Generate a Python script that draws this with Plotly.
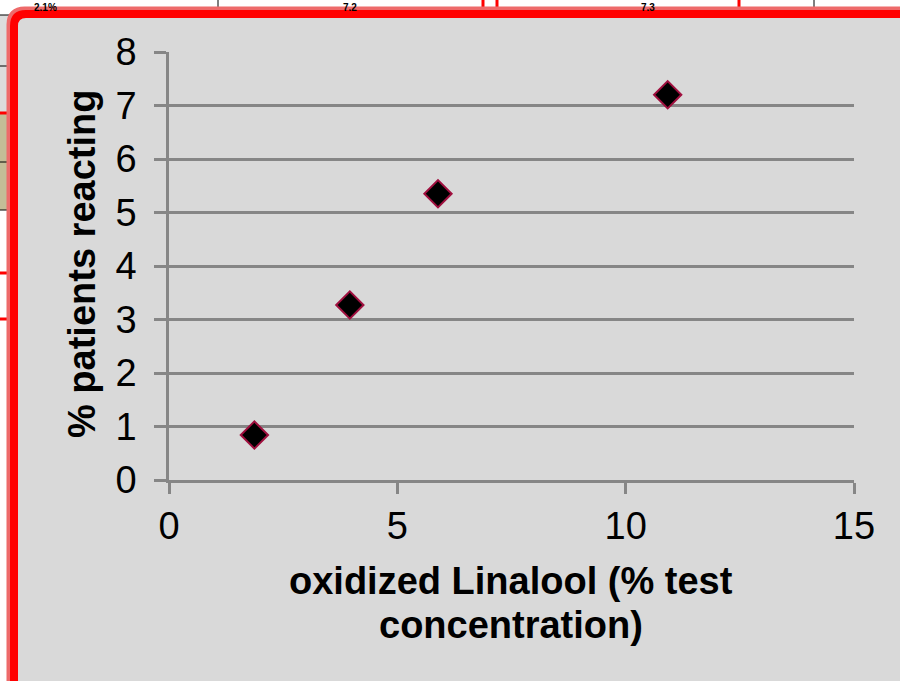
import plotly.graph_objects as go

# ---- data ----
concentration = [1.87, 3.96, 5.89, 10.92]
pct_reacting = [0.84, 3.27, 5.35, 7.2]
x_ticks = [0, 5, 10, 15]
y_ticks = [0, 1, 2, 3, 4, 5, 6, 7, 8]
x_title_lines = ["oxidized Linalool (% test", "concentration)"]
y_title = "% patients reacting"
cell_texts = ["2.1%", "7.2", "7.3"]

W, H = 900, 681


def px(x):
    return x / W


def py(y):
    return 1 - y / H


GRID = "#868686"
BG = "#D9D9D9"
FONT = "Liberation Sans, Arial, sans-serif"

fig = go.Figure()
fig.add_trace(go.Scatter(
    x=concentration, y=pct_reacting, mode="markers",
    marker=dict(symbol="diamond", size=21, color="black",
                line=dict(color="#A0103F", width=2)),
    showlegend=False, cliponaxis=False,
))

shapes = []
# spreadsheet remnants: left strip
shapes.append(dict(type="rect", xref="paper", yref="paper", x0=px(0), x1=px(9), y0=py(113), y1=py(15),
                   fillcolor="#DCDCDC", line=dict(width=0), layer="below"))
shapes.append(dict(type="rect", xref="paper", yref="paper", x0=px(0), x1=px(9), y0=py(210), y1=py(113),
                   fillcolor="#C4BD97", line=dict(width=0), layer="below"))
for yy, col in [(15, "black"), (66, "black"), (162, "black"), (210, "black")]:
    shapes.append(dict(type="line", xref="paper", yref="paper", x0=px(0), x1=px(9), y0=py(yy), y1=py(yy),
                       line=dict(color=col, width=1), layer="below"))
for yy in [113, 273, 319]:
    shapes.append(dict(type="line", xref="paper", yref="paper", x0=px(0), x1=px(9), y0=py(yy), y1=py(yy),
                       line=dict(color="red", width=3), layer="below"))
# top strip
for xx in [218, 814]:
    shapes.append(dict(type="line", xref="paper", yref="paper", x0=px(xx), x1=px(xx), y0=py(12), y1=py(0),
                       line=dict(color="black", width=1), layer="below"))
for xx in [483, 497, 739]:
    shapes.append(dict(type="line", xref="paper", yref="paper", x0=px(xx), x1=px(xx), y0=py(12), y1=py(0),
                       line=dict(color="red", width=3), layer="below"))

# chart frame with rounded corner
r = 12


def frame_path(off):
    x0, y0 = off, off
    return (f"M {px(x0)},{py(H + 20)} L {px(x0)},{py(y0 + r)} "
            f"Q {px(x0)},{py(y0)} {px(x0 + r)},{py(y0)} L {px(W + 20)},{py(y0)} "
            f"L {px(W + 20)},{py(H + 20)} Z")


shapes.append(dict(type="path", xref="paper", yref="paper", path=frame_path(12.5),
                   fillcolor=BG, line=dict(color="#EE6A6A", width=12), layer="below"))
shapes.append(dict(type="path", xref="paper", yref="paper", path=frame_path(14),
                   fillcolor=BG, line=dict(color="#FF0000", width=8), layer="below"))

annotations = []
for txt, cx in zip(cell_texts, [45, 350, 648]):
    annotations.append(dict(text="<b>" + txt + "</b>", x=px(cx), y=py(0), xref="paper", yref="paper",
                            xanchor="center", yanchor="top", showarrow=False,
                            font=dict(family=FONT, size=10, color="black")))
annotations += [
    dict(text="<b>" + x_title_lines[0] + "</b>", x=px(511), y=py(581), xref="paper", yref="paper",
         xanchor="center", yanchor="middle", showarrow=False, font=dict(family=FONT, size=38, color="black")),
    dict(text="<b>" + x_title_lines[1] + "</b>", x=px(511), y=py(625), xref="paper", yref="paper",
         xanchor="center", yanchor="middle", showarrow=False, font=dict(family=FONT, size=38, color="black")),
    dict(text="<b>" + y_title + "</b>", x=px(82), y=py(264), xref="paper", yref="paper", textangle=-90,
         xanchor="center", yanchor="middle", showarrow=False, font=dict(family=FONT, size=38, color="black")),
]

fig.update_layout(
    width=W, height=H,
    margin=dict(l=0, r=0, t=0, b=0, pad=0, autoexpand=False),
    paper_bgcolor="white", plot_bgcolor=BG,
    shapes=shapes, annotations=annotations,
    font=dict(family=FONT, color="black"),
    xaxis=dict(domain=[px(169), px(854)], range=[0, 15], tickvals=x_ticks,
               showgrid=False, zeroline=False, showline=True, linecolor=GRID, linewidth=2.5,
               ticks="outside", ticklen=11, tickcolor=GRID, tickwidth=2.5, automargin=False,
               tickfont=dict(family=FONT, size=38, color="black"), ticklabelstandoff=0),
    yaxis=dict(domain=[py(480), py(52)], range=[0, 8], tickvals=y_ticks,
               showgrid=True, gridcolor=GRID, gridwidth=2.5, zeroline=False,
               showline=True, linecolor=GRID, linewidth=2.5, automargin=False,
               ticks="outside", ticklen=12, tickcolor=GRID, tickwidth=2.5,
               tickfont=dict(family=FONT, size=38, color="black"), ticklabelstandoff=10),
)

fig.write_html("out.html")
